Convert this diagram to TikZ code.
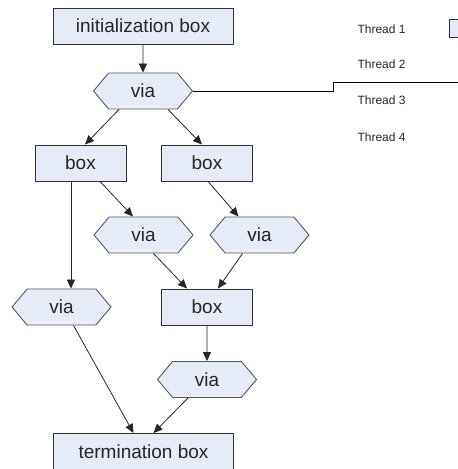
\documentclass[tikz,border=0pt]{standalone}
\usepackage{fontspec}
\setmainfont{Liberation Sans}
\usetikzlibrary{shapes.symbols,arrows.meta}
\definecolor{boxfill}{RGB}{230,236,247}
\definecolor{boxline}{RGB}{50,50,50}

\begin{document}
\begin{tikzpicture}[x=1pt,y=-1pt,
  box/.style={draw=boxline, line width=0.9pt, fill=boxfill, rectangle,
    minimum height=36pt, minimum width=91pt, inner sep=0pt,
    font=\fontsize{19}{22}\selectfont, text=black!85},
  via/.style={draw=gray!70!black, line width=0.9pt, fill=boxfill, shape=signal,
    signal to=east and west, signal from=nowhere, signal pointer angle=100,
    minimum height=36pt, minimum width=99pt, inner sep=0pt,
    font=\fontsize{19}{22}\selectfont, text=black!85},
  flow/.style={draw=black!85, line width=0.8pt, -{Triangle[length=9pt,width=8pt]}},
  thread/.style={anchor=west, font=\fontsize{12}{14}\selectfont, text=black!85}]
\useasboundingbox (0,0) rectangle (458,469);
\clip (0,0) rectangle (458,469);

\node[box, minimum width=180pt] (init) at (143,26) {initialization box};
\node[via] (v0) at (143,91) {via};
\node[box] (bl) at (80.5,163) {box};
\node[box] (br) at (207,163) {box};
\node[via] (vl) at (143.5,235) {via};
\node[via] (vr) at (259.5,235) {via};
\node[via] (vo) at (61.5,307) {via};
\node[box] (bm) at (207,307) {box};
\node[via] (vb) at (207,379.5) {via};
\node[box, minimum width=180pt] (term) at (143.5,451.5) {termination box};

% thread legend
\node[thread] (t1) at (354,29) {Thread 1};
\node[thread] (t2) at (354,64) {Thread 2};
\node[thread] (t3) at (354,100) {Thread 3};
\node[thread] (t4) at (354,137) {Thread 4};
\node[box, minimum width=20pt, minimum height=18pt] (lg) at (459,28) {};
\coordinate (step1) at (333,91);
\coordinate (step2) at (333,82);
\coordinate (edge) at (470,82);
\path[draw=black, line width=0.9pt] (v0.east) -- (step1) -- (step2) -- (edge);

\path[flow] (init) -- (v0);
\path[flow] ([xshift=-24pt]v0.south) -- ([xshift=4.5pt]bl.north);
\path[flow] ([xshift=25pt]v0.south) -- ([xshift=-5pt]br.north);
\path[flow] ([xshift=-9.5pt]bl.south) -- ([xshift=9.5pt]vo.north);
\path[flow] ([xshift=19.5pt]bl.south) -- ([xshift=-10.5pt]vl.north);
\path[flow] ([xshift=1pt]br.south) -- ([xshift=-21pt]vr.north);
\path[flow] ([xshift=10pt]vl.south) -- ([xshift=-20pt]bm.north);
\path[flow] ([xshift=-17pt]vr.south) -- ([xshift=11pt]bm.north);
\path[flow] (bm) -- (vb);
\path[flow] ([xshift=12pt]vo.south) -- ([xshift=-10pt]term.north);
\path[flow] ([xshift=-19pt]vb.south) -- ([xshift=10pt]term.north);
\end{tikzpicture}
\end{document}
